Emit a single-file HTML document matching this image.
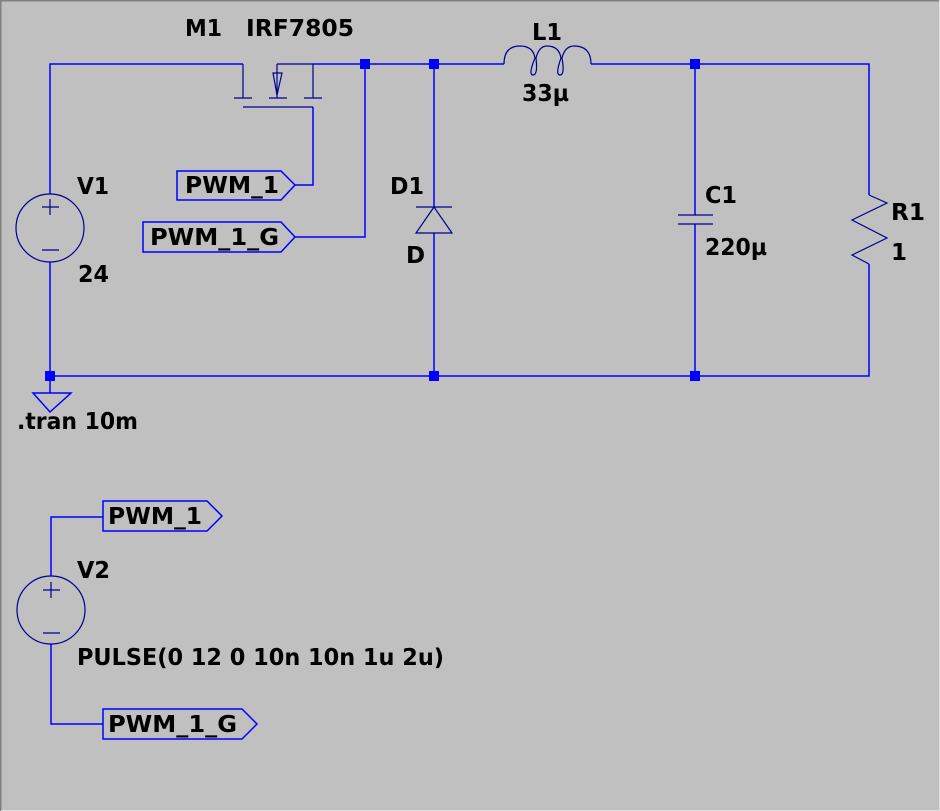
<!DOCTYPE html>
<html><head><style>
html,body{margin:0;padding:0;background:#c0c0c0;}
svg{display:block}
text{font-family:"DejaVu Sans","Liberation Sans",sans-serif;font-weight:bold;font-size:23px;fill:#000}
</style></head><body>
<svg width="940" height="811" viewBox="0 0 940 811" xmlns="http://www.w3.org/2000/svg">
<rect x="0" y="0" width="940" height="811" fill="#c0c0c0"/>
<path d="M0.5 811V0.5H940" stroke="#808080" stroke-width="2" fill="none"/>
<path d="M1 810.5H939.5V0" stroke="#e0e0e0" stroke-width="1" fill="none"/>
<g stroke="#0000ff" stroke-width="1.5" fill="none">
<path d="M50 376V262M50 194V64H243"/>
<path d="M313 64H504M591 64H869V195M869 264V376H50"/>
<path d="M365 64V237H295"/>
<path d="M434 64V207M434 233V376"/>
<path d="M695 64V215M695 224V376"/>
<path d="M313 107V185H295"/>
<path d="M177 171H281L295 185L281 200H177Z"/>
<path d="M143 222H281L295 237L281 252H143Z"/>
<path d="M103 501H207L222 516L207 531H103Z"/>
<path d="M103 709H242L257 724L242 739H103Z"/>
<path d="M51 576V517H103M51 644V724H103"/>
<path d="M33 393H71L50 412Z"/>
<path d="M50 376V393"/>
</g>
<g stroke="#000090" stroke-width="1.2" fill="none">
<path d="M243 64V98M234 98H252M277 64V98M269 98H287M313 64V98M304 98H322M243 107H313M277 64H313"/>
<path d="M273 73H282L277 95Z"/>
<path d="M416 207H452M434 207L416 233H452Z"/>
<path d="M504 64Q504 46 520 46Q533 46 535 58Q528 75 533 75Q538 75 536 58Q539 46 547 46Q559 46 561 58Q555 75 560 75Q565 75 562 58Q565 46 574 46Q591 46 591 64"/>
<path d="M678 215H713M678 224H713"/>
<path d="M869 195L887 203L852 220L887 238L852 255L869 264"/>
<circle cx="50" cy="228" r="34"/>
<path d="M42 207H59M50 199V215M42 250H59"/>
<circle cx="51" cy="610" r="34"/>
<path d="M43 590H60M51 582V598M43 633H60"/>
</g>
<g fill="#0000ff">
<rect x="360" y="59" width="10" height="10"/>
<rect x="429" y="59" width="10" height="10"/>
<rect x="690" y="59" width="10" height="10"/>
<rect x="45" y="371" width="10" height="10"/>
<rect x="429" y="371" width="10" height="10"/>
<rect x="690" y="371" width="10" height="10"/>
</g>
<text x="185" y="36" textLength="37" lengthAdjust="spacingAndGlyphs">M1</text>
<text x="246" y="36" textLength="108" lengthAdjust="spacingAndGlyphs">IRF7805</text>
<text x="532" y="40" textLength="30" lengthAdjust="spacingAndGlyphs">L1</text>
<text x="522" y="101" textLength="47" lengthAdjust="spacingAndGlyphs">33µ</text>
<text x="77" y="194" textLength="32" lengthAdjust="spacingAndGlyphs">V1</text>
<text x="78" y="282" textLength="31" lengthAdjust="spacingAndGlyphs">24</text>
<text x="390" y="194" textLength="34" lengthAdjust="spacingAndGlyphs">D1</text>
<text x="406" y="263">D</text>
<text x="705" y="203" textLength="32" lengthAdjust="spacingAndGlyphs">C1</text>
<text x="705" y="255" textLength="62" lengthAdjust="spacingAndGlyphs">220µ</text>
<text x="891" y="220" textLength="34" lengthAdjust="spacingAndGlyphs">R1</text>
<text x="891" y="260">1</text>
<text x="185" y="193" textLength="94" lengthAdjust="spacingAndGlyphs">PWM_1</text>
<text x="150" y="245" textLength="129" lengthAdjust="spacingAndGlyphs">PWM_1_G</text>
<text x="17" y="429" textLength="121" lengthAdjust="spacingAndGlyphs">.tran 10m</text>
<text x="108" y="524" textLength="94" lengthAdjust="spacingAndGlyphs">PWM_1</text>
<text x="77" y="578" textLength="33" lengthAdjust="spacingAndGlyphs">V2</text>
<text x="77" y="665" textLength="367" lengthAdjust="spacingAndGlyphs">PULSE(0 12 0 10n 10n 1u 2u)</text>
<text x="108" y="732" textLength="129" lengthAdjust="spacingAndGlyphs">PWM_1_G</text>
</svg>
</body></html>
